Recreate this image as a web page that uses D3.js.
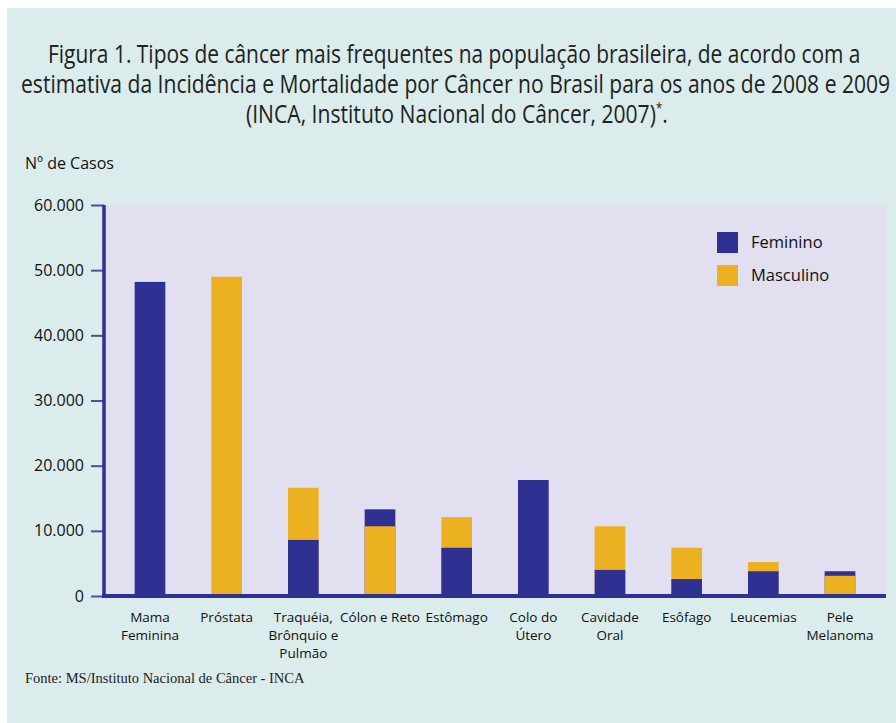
<!DOCTYPE html>
<html><head><meta charset="utf-8">
<script src="https://cdn.jsdelivr.net/npm/d3@7"></script>
<style>body{margin:0;background:#fff}svg{display:block}</style>
</head><body>
<svg id="c" width="896" height="723"></svg>
<script>
const categories = [["Mama","Feminina"],["Próstata"],["Traquéia,","Brônquio e","Pulmão"],["Cólon e Reto"],["Estômago"],["Colo do","Útero"],["Cavidade","Oral"],["Esôfago"],["Leucemias"],["Pele","Melanoma"]];
const feminino  = [48200, 0, 8600, 13300, 7400, 17800, 4000, 2600, 3800, 3800];
const masculino = [0, 49000, 16600, 10700, 12100, 0, 10700, 7400, 5200, 3100];
const yTicks = [0,10000,20000,30000,40000,50000,60000];
const titleLines = ["Figura 1. Tipos de câncer mais frequentes na população brasileira, de acordo com a","estimativa da Incidência e Mortalidade por Câncer no Brasil para os anos de 2008 e 2009","(INCA, Instituto Nacional do Câncer, 2007)*."];
const seriesNames = ["Feminino","Masculino"];
const colors = {Feminino:"#2e3192", Masculino:"#ecb120"};

const svg = d3.select("#c");
svg.append("rect").attr("x",7).attr("y",8).attr("width",889).attr("height",715).attr("fill","#daeceb");

// title: horizontally condensed via scale transform
const tl = [[48,63,813],[21,93,870],[246,123,422]];
titleLines.forEach((t,i)=>{
  const el = svg.append("text").attr("x",0).attr("y",0)
    .attr("font-family","Open Sans, sans-serif").attr("font-size",26).attr("fill","#222");
  if(i===2){
    el.append("tspan").text(t.slice(0,-2));
    el.append("tspan").attr("font-size",14).attr("dy",-10).text("*");
    el.append("tspan").attr("dy",10).text(".");
  } else el.text(t);
  const w = el.node().getComputedTextLength();
  el.attr("transform",`translate(${tl[i][0]},${tl[i][1]}) scale(${tl[i][2]/w},1)`);
});

const L=104, R=886, T=205, B=596;
svg.append("rect").attr("x",L).attr("y",T).attr("width",R-L).attr("height",B-T).attr("fill","#e1dff0");

const y = d3.scaleLinear().domain([0,60000]).range([B,T]);
const x = d3.scaleBand().domain(d3.range(categories.length)).range([L,R]).paddingInner(0.6).paddingOuter(0.4);

svg.append("text").attr("x",25).attr("y",169).attr("font-family","Open Sans, sans-serif").attr("font-size",16).attr("fill","#111").text("Nº de Casos");

// bars: larger drawn first, smaller on top
const g = svg.append("g");
categories.forEach((c,i)=>{
  const items = [{k:"Feminino",v:feminino[i]},{k:"Masculino",v:masculino[i]}].filter(d=>d.v>0).sort((a,b)=>b.v-a.v);
  items.forEach(d=>{
    g.append("rect").attr("x",x(i)).attr("width",x.bandwidth()).attr("y",y(d.v)).attr("height",B-y(d.v)).attr("fill",colors[d.k]);
  });
});

// y axis
const ya = svg.append("g").attr("transform",`translate(${L},0)`)
  .call(d3.axisLeft(y).tickValues(yTicks).tickSize(13).tickPadding(7).tickFormat(d=>d===0?"0":d3.format(".3f")(d/1000)));
ya.select(".domain").remove();
ya.selectAll(".tick line").attr("stroke","#4a4fa6").attr("stroke-width",2);
ya.selectAll(".tick text").attr("font-family","Open Sans, sans-serif").attr("font-size",16).attr("fill","#111");
svg.append("line").attr("x1",L).attr("x2",L).attr("y1",T).attr("y2",B+2).attr("stroke","#2e3192").attr("stroke-width",3.5);
svg.append("line").attr("x1",L-2).attr("x2",R).attr("y1",B).attr("y2",B).attr("stroke","#2e3192").attr("stroke-width",4);

// x labels
categories.forEach((c,i)=>{
  const t = svg.append("text").attr("text-anchor","middle").attr("font-family","Open Sans, sans-serif").attr("font-size",13.5).attr("fill","#111");
  c.forEach((ln,j)=>t.append("tspan").attr("x",x(i)+x.bandwidth()/2).attr("y",622+j*18).text(ln));
});

// legend
seriesNames.forEach((s,i)=>{
  svg.append("rect").attr("x",717).attr("y",232+i*33).attr("width",21).attr("height",21).attr("fill",colors[s]);
  svg.append("text").attr("x",751).attr("y",248+i*33).attr("font-family","Open Sans, sans-serif").attr("font-size",16.5).attr("fill","#111").text(s);
});

svg.append("text").attr("x",25).attr("y",683).attr("font-family","Liberation Serif, serif").attr("font-size",14.5).attr("fill","#222").text("Fonte: MS/Instituto Nacional de Câncer - INCA");
</script>
</body></html>
